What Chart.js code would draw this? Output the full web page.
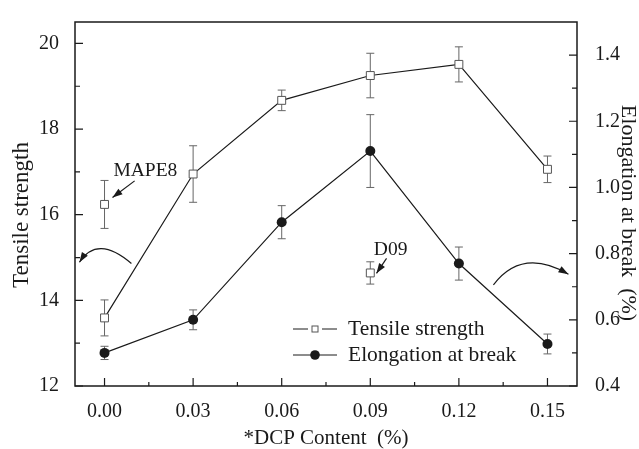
<!DOCTYPE html>
<html>
<head>
<meta charset="utf-8">
<script src="https://cdn.jsdelivr.net/npm/chart.js@4.4.1/dist/chart.umd.min.js"></script>
<style>
  html, body { margin: 0; padding: 0; background: #fff; }
  #wrap { width: 639px; height: 449px; }
</style>
</head>
<body>
<div id="wrap"><canvas id="chart" width="639" height="449"></canvas></div>
<script>
// DCP content (%)
const dcpContent = [0.00, 0.03, 0.06, 0.09, 0.12, 0.15];
// Tensile strength, left axis
const tensile = [13.59, 16.95, 18.67, 19.25, 19.51, 17.06];
const tensileErr = [0.42, 0.66, 0.24, 0.52, 0.41, 0.31];
// Elongation at break (%), right axis
const elongation = [0.50, 0.60, 0.895, 1.11, 0.77, 0.527];
const elongationErr = [0.02, 0.03, 0.05, 0.11, 0.05, 0.03];
// reference samples (tensile strength)
const mape8X = [0.00], mape8Y = [16.24], mape8Err = [0.56];
const d09X = [0.09], d09Y = [14.64], d09Err = [0.26];

const xTicks = [0.00, 0.03, 0.06, 0.09, 0.12, 0.15];
const tensileTicks = [12, 14, 16, 18, 20];
const elongTicks = [0.4, 0.6, 0.8, 1.0, 1.2, 1.4];

const FONT = "'Liberation Serif', 'Times New Roman', serif";
const INK = '#1a1a1a';

// minor ticks halfway between majors
const minors = t => t.slice(1).map((v, i) => (v + t[i]) / 2);
const pts = (xs, ys) => xs.map((x, i) => ({ x: x, y: ys[i] }));

// annotation arrows, in (x, tensile) units
const arrows = [
  { from: [0.0091, 14.86], ctrl: [-0.0024, 15.54], to: [-0.0085, 14.89] },
  { from: [0.1317, 14.36], ctrl: [0.1414, 15.24], to: [0.1571, 14.61] },
  { from: [0.0102, 16.79], to: [0.0027, 16.40] },
  { from: [0.0955, 14.98], to: [0.0921, 14.63] }
];
const notes = [
  { text: 'MAPE8', at: [0.0030, 17.02] },
  { text: 'D09', at: [0.0912, 15.18] }
];

function arrowHead(ctx, x, y, ang) {
  const L = 10, W = 3.5;
  ctx.beginPath();
  ctx.moveTo(x, y);
  ctx.lineTo(x - L * Math.cos(ang) + W * Math.sin(ang), y - L * Math.sin(ang) - W * Math.cos(ang));
  ctx.lineTo(x - L * Math.cos(ang) - W * Math.sin(ang), y - L * Math.sin(ang) + W * Math.cos(ang));
  ctx.closePath();
  ctx.fill();
}

const decor = {
  id: 'decor',
  beforeDatasetsDraw(chart) {
    const ctx = chart.ctx;
    ctx.save();
    ctx.strokeStyle = '#666';
    ctx.lineWidth = 1;
    chart.data.datasets.forEach((ds, di) => {
      if (!ds.errors) return;
      const meta = chart.getDatasetMeta(di);
      const ys = chart.scales[ds.yAxisID];
      meta.data.forEach((p, i) => {
        const v = ds.data[i].y, e = ds.errors[i];
        const y1 = ys.getPixelForValue(v + e), y2 = ys.getPixelForValue(v - e);
        ctx.beginPath();
        ctx.moveTo(p.x, y1); ctx.lineTo(p.x, y2);
        ctx.moveTo(p.x - 4, y1); ctx.lineTo(p.x + 4, y1);
        ctx.moveTo(p.x - 4, y2); ctx.lineTo(p.x + 4, y2);
        ctx.stroke();
      });
    });
    ctx.restore();
  },
  afterDatasetsDraw(chart) {
    const ctx = chart.ctx;
    const a = chart.chartArea;
    const sx = chart.scales.x, sl = chart.scales.yT, sr = chart.scales.yE;
    ctx.save();
    ctx.strokeStyle = INK;
    ctx.fillStyle = INK;

    // frame
    ctx.lineWidth = 1.5;
    ctx.strokeRect(a.left, a.top, a.right - a.left, a.bottom - a.top);

    // inward ticks
    ctx.lineWidth = 1.2;
    ctx.beginPath();
    const tick = (scale, vals, len, kind) => vals.forEach(v => {
      const p = scale.getPixelForValue(v);
      if (kind === 'x') { ctx.moveTo(p, a.bottom); ctx.lineTo(p, a.bottom - len); }
      if (kind === 'l') { ctx.moveTo(a.left, p); ctx.lineTo(a.left + len, p); }
      if (kind === 'r') { ctx.moveTo(a.right, p); ctx.lineTo(a.right - len, p); }
    });
    tick(sx, xTicks, 8, 'x'); tick(sx, minors(xTicks), 4, 'x');
    tick(sl, tensileTicks, 8, 'l'); tick(sl, minors(tensileTicks), 5, 'l');
    tick(sr, elongTicks, 8, 'r'); tick(sr, minors(elongTicks), 5, 'r');
    ctx.stroke();

    // arrows
    ctx.lineWidth = 1.2;
    arrows.forEach(ar => {
      const fx = sx.getPixelForValue(ar.from[0]), fy = sl.getPixelForValue(ar.from[1]);
      const tx = sx.getPixelForValue(ar.to[0]), ty = sl.getPixelForValue(ar.to[1]);
      ctx.beginPath();
      ctx.moveTo(fx, fy);
      let ang;
      if (ar.ctrl) {
        const cx = sx.getPixelForValue(ar.ctrl[0]), cy = sl.getPixelForValue(ar.ctrl[1]);
        ctx.quadraticCurveTo(cx, cy, tx, ty);
        ang = Math.atan2(ty - cy, tx - cx);
      } else {
        ctx.lineTo(tx, ty);
        ang = Math.atan2(ty - fy, tx - fx);
      }
      ctx.stroke();
      arrowHead(ctx, tx, ty, ang);
    });

    // notes
    ctx.font = '19.5px ' + FONT;
    ctx.textAlign = 'left';
    ctx.textBaseline = 'middle';
    notes.forEach(n => ctx.fillText(n.text, sx.getPixelForValue(n.at[0]), sl.getPixelForValue(n.at[1])));

    // legend
    const lx = a.left + 218, ly = a.top + 307;
    chart.data.datasets.filter(ds => ds.inLegend).forEach((ds, i) => {
      const y = ly + i * 26;
      ctx.strokeStyle = INK; ctx.lineWidth = 1;
      ctx.beginPath();
      ctx.moveTo(lx, y); ctx.lineTo(lx + 15, y);
      ctx.moveTo(lx + 29, y); ctx.lineTo(lx + 44, y);
      ctx.stroke();
      ctx.beginPath();
      if (ds.pointStyle === 'rect') {
        ctx.fillStyle = '#fff'; ctx.strokeStyle = '#555';
        ctx.fillRect(lx + 19, y - 3, 6, 6); ctx.strokeRect(lx + 19, y - 3, 6, 6);
      } else {
        ctx.fillStyle = INK;
        ctx.arc(lx + 22, y, 4.8, 0, Math.PI * 2); ctx.fill();
        ctx.strokeStyle = INK;
        ctx.beginPath(); ctx.moveTo(lx + 15, y); ctx.lineTo(lx + 29, y); ctx.stroke();
      }
      ctx.fillStyle = INK;
      ctx.font = '21.5px ' + FONT;
      ctx.fillText(ds.label, lx + 55, y);
    });

    // axis titles
    ctx.textAlign = 'center';
    ctx.save();
    ctx.font = '23px ' + FONT;
    ctx.translate(22, 215); ctx.rotate(-Math.PI / 2);
    ctx.fillText('Tensile strength', 0, 0);
    ctx.restore();
    ctx.save();
    ctx.font = '22px ' + FONT;
    ctx.translate(628, 213); ctx.rotate(Math.PI / 2);
    ctx.fillText('Elongation at break  (%)', 0, 0);
    ctx.restore();
    ctx.font = '21px ' + FONT;
    ctx.fillText('*DCP Content  (%)', (a.left + a.right) / 2, 438);
    ctx.restore();
  }
};

const tickFont = { family: FONT, size: 20 };

new Chart(document.getElementById('chart'), {
  type: 'line',
  data: {
    datasets: [
      {
        label: 'Tensile strength', inLegend: true,
        data: pts(dcpContent, tensile), errors: tensileErr, yAxisID: 'yT',
        borderColor: INK, borderWidth: 1.2, pointStyle: 'rect', pointRadius: 5.6,
        pointBackgroundColor: '#fff', pointBorderColor: '#555', pointBorderWidth: 1
      },
      {
        label: 'Elongation at break', inLegend: true,
        data: pts(dcpContent, elongation), errors: elongationErr, yAxisID: 'yE',
        borderColor: INK, borderWidth: 1.2, pointStyle: 'circle', pointRadius: 5,
        pointBackgroundColor: INK, pointBorderColor: INK, pointBorderWidth: 0
      },
      {
        label: 'MAPE8', data: pts(mape8X, mape8Y), errors: mape8Err, yAxisID: 'yT',
        showLine: false, pointStyle: 'rect', pointRadius: 5.6,
        pointBackgroundColor: '#fff', pointBorderColor: '#555', pointBorderWidth: 1
      },
      {
        label: 'D09', data: pts(d09X, d09Y), errors: d09Err, yAxisID: 'yT',
        showLine: false, pointStyle: 'rect', pointRadius: 5.6,
        pointBackgroundColor: '#fff', pointBorderColor: '#555', pointBorderWidth: 1
      }
    ]
  },
  options: {
    responsive: false,
    animation: false,
    devicePixelRatio: 1,
    layout: { padding: { top: 15, left: 0, right: 0, bottom: 0 } },
    plugins: { legend: { display: false }, tooltip: { enabled: false } },
    scales: {
      x: {
        type: 'linear', min: -0.01, max: 0.16,
        afterBuildTicks: s => { s.ticks = xTicks.map(v => ({ value: v })); },
        afterFit: s => { s.height = 63; },
        grid: { display: false }, border: { display: false },
        ticks: { font: tickFont, color: INK, padding: 6, callback: v => v.toFixed(2) }
      },
      yT: {
        position: 'left', min: 12, max: 20.5,
        afterBuildTicks: s => { s.ticks = tensileTicks.map(v => ({ value: v })); },
        afterFit: s => { s.width = 75; },
        grid: { display: false }, border: { display: false },
        ticks: { font: tickFont, color: INK, padding: 8, callback: v => String(v) }
      },
      yE: {
        position: 'right', min: 0.4, max: 1.5,
        afterBuildTicks: s => { s.ticks = elongTicks.map(v => ({ value: v })); },
        afterFit: s => { s.width = 62; },
        grid: { display: false }, border: { display: false },
        ticks: { font: tickFont, color: INK, padding: 10, callback: v => v.toFixed(1) }
      }
    }
  },
  plugins: [decor]
});
</script>
</body>
</html>
